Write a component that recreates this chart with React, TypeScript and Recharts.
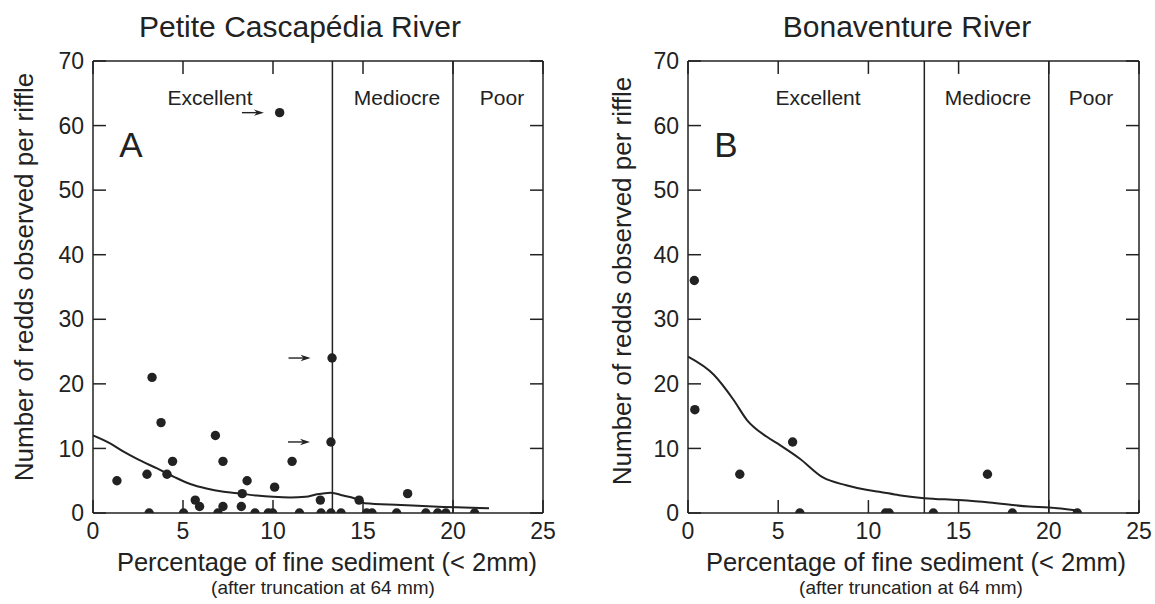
import React from "react";
import {
  ComposedChart,
  Scatter,
  Line,
  XAxis,
  YAxis,
  ReferenceLine,
} from "recharts";

const FONT = '"Liberation Sans", Arial, Helvetica, sans-serif';
const INK = "#222";

const xTicks = [0, 5, 10, 15, 20, 25];
const yTicks = [0, 10, 20, 30, 40, 50, 60, 70];
// inward tick length, in data units (about 13px on each axis)
const TICK_DX = 0.72;
const TICK_DY = 2.0;

// Petite Cascapédia River (A)
const petiteDotX = [
  3.28, 3.78, 6.8, 4.42, 7.22, 11.06, 1.33, 3.0, 4.11, 8.56, 8.29, 10.09, 5.68,
  5.92, 7.22, 8.24, 10.37, 13.28, 13.22, 12.63, 14.78, 17.48,
  3.12, 5.03, 6.94, 9.0, 9.74, 9.98, 11.47, 12.67, 13.22, 13.78, 15.2, 15.5,
  16.87, 18.49, 19.15, 19.6, 21.2,
];
const petiteDotY = [
  21, 14, 12, 8, 8, 8, 5, 6, 6, 5, 3, 4, 2, 1, 1, 1, 62, 24, 11, 2, 2, 3,
  0, 0, 0, 0, 0, 0, 0, 0, 0, 0, 0, 0, 0, 0, 0, 0, 0,
];
const petiteCurveX = [
  0, 1, 1.7, 2.5, 3.56, 4.5, 5.4, 6.3, 7.26, 8.2, 9.1, 10, 10.96, 11.8, 12.44,
  13.2, 13.9, 14.78, 15.1, 17.1, 18.9, 22,
];
const petiteCurveY = [
  12.0, 10.7, 9.5, 8.3, 6.9, 5.6, 4.5, 3.8, 3.3, 3.0, 2.7, 2.5, 2.4, 2.5, 2.9,
  3.15, 2.7, 2.0, 1.5, 1.24, 1.0, 0.72,
];
const petiteArrowX = [9.94, 12.53, 12.5];
const petiteArrowY = [62, 24, 11];
const petiteZones = [13.3, 20];

// Bonaventure River (B)
const bonaDotX = [0.35, 0.38, 2.87, 5.8, 6.2, 10.95, 11.15, 13.6, 16.6, 17.98, 21.58];
const bonaDotY = [36, 16, 6, 11, 0, 0, 0, 0, 6, 0, 0];
const bonaCurveX = [
  0, 1.43, 2.53, 3.27, 4.37, 5.1, 6.2, 7.48, 8.77, 9.88, 10.6, 11.7, 13.1, 15,
  16.7, 18.9, 20, 21.6,
];
const bonaCurveY = [
  24.2, 21.4, 17.5, 14.4, 11.8, 10.5, 8.4, 5.5, 4.3, 3.6, 3.3, 2.75, 2.3, 2.0,
  1.64, 1.0, 0.87, 0.4,
];
const bonaZones = [13.1, 20];

const zip = (xs: number[], ys: number[]) => xs.map((x, i) => ({ x, y: ys[i] }));

const Dot = (p: any) => <circle cx={p.cx} cy={p.cy} r={4.7} fill={INK} />;

const Arrow = (p: any) => {
  const tip = p.cx - 8;
  return (
    <g>
      <line x1={tip - 22} y1={p.cy} x2={tip - 6} y2={p.cy} stroke={INK} strokeWidth={1.4} />
      <polygon
        points={`${tip},${p.cy} ${tip - 10},${p.cy - 3.2} ${tip - 7},${p.cy} ${tip - 10},${p.cy + 3.2}`}
        fill={INK}
      />
    </g>
  );
};

function Panel({
  width,
  yAxisWidth,
  right,
  dots,
  curve,
  zones,
  arrows,
}: {
  width: number;
  yAxisWidth: number;
  right: number;
  dots: { x: number; y: number }[];
  curve: { x: number; y: number }[];
  zones: number[];
  arrows?: { x: number; y: number }[];
}) {
  const axisStroke = { stroke: INK, strokeWidth: 1.5 };
  const tickSeg = (key: string, a: [number, number], b: [number, number]) => (
    <ReferenceLine
      key={key}
      segment={[
        { x: a[0], y: a[1] },
        { x: b[0], y: b[1] },
      ]}
      stroke={INK}
      strokeWidth={1.5}
    />
  );
  return (
    <ComposedChart
      width={width}
      height={604}
      margin={{ top: 61, right, bottom: 0, left: 0 }}
    >
      <XAxis
        type="number"
        dataKey="x"
        domain={[0, 25]}
        ticks={xTicks}
        allowDataOverflow
        height={91}
        tickSize={-13}
        tickMargin={23}
        tickLine={false}
        axisLine={axisStroke}
        tick={{ fontSize: 23, fill: INK, fontFamily: FONT }}
      />
      <XAxis
        xAxisId="top"
        orientation="top"
        mirror
        type="number"
        dataKey="x"
        domain={[0, 25]}
        ticks={xTicks}
        allowDataOverflow
        tick={false}
        tickLine={false}
        axisLine={axisStroke}
      />
      <YAxis
        type="number"
        dataKey="y"
        domain={[0, 70]}
        ticks={yTicks}
        allowDataOverflow
        width={yAxisWidth}
        tickSize={-13}
        tickMargin={22}
        tickLine={false}
        axisLine={axisStroke}
        tick={{ fontSize: 23, fill: INK, fontFamily: FONT }}
      />
      <YAxis
        yAxisId="right"
        orientation="right"
        mirror
        type="number"
        dataKey="y"
        domain={[0, 70]}
        ticks={yTicks}
        allowDataOverflow
        tick={false}
        tickLine={false}
        axisLine={axisStroke}
      />
      {xTicks.map((t) => tickSeg(`b${t}`, [t, 0], [t, TICK_DY]))}
      {xTicks.map((t) => tickSeg(`t${t}`, [t, 70], [t, 70 - TICK_DY]))}
      {yTicks.map((t) => tickSeg(`l${t}`, [0, t], [TICK_DX, t]))}
      {yTicks.map((t) => tickSeg(`r${t}`, [25, t], [25 - TICK_DX, t]))}
      {zones.map((z) => (
        <ReferenceLine key={z} x={z} stroke={INK} strokeWidth={1.5} />
      ))}
      <Scatter
        data={dots}
        xAxisId="top"
        yAxisId="right"
        shape={() => <g />}
        isAnimationActive={false}
      />
      <Line
        data={curve}
        dataKey="y"
        type="monotone"
        stroke={INK}
        strokeWidth={2}
        dot={false}
        activeDot={false}
        isAnimationActive={false}
      />
      <Scatter data={dots} shape={Dot} isAnimationActive={false} />
      {arrows && <Scatter data={arrows} shape={Arrow} isAnimationActive={false} />}
    </ComposedChart>
  );
}

export default function App() {
  const yLabel = "Number of redds observed per riffle";
  const xLabel = "Percentage of fine sediment (< 2mm)";
  const xSub = "(after truncation at 64 mm)";
  return (
    <div
      style={{
        position: "absolute",
        left: 0,
        top: 0,
        width: 1155,
        height: 604,
        background: "#fff",
        fontFamily: FONT,
      }}
    >
      <div style={{ position: "absolute", left: 0, top: 0 }}>
        <Panel
          width={580}
          yAxisWidth={93}
          right={37}
          dots={zip(petiteDotX, petiteDotY)}
          curve={zip(petiteCurveX, petiteCurveY)}
          zones={petiteZones}
          arrows={zip(petiteArrowX, petiteArrowY)}
        />
      </div>
      <div style={{ position: "absolute", left: 580, top: 0 }}>
        <Panel
          width={575}
          yAxisWidth={108}
          right={16}
          dots={zip(bonaDotX, bonaDotY)}
          curve={zip(bonaCurveX, bonaCurveY)}
          zones={bonaZones}
        />
      </div>
      <svg
        width={1155}
        height={604}
        style={{ position: "absolute", left: 0, top: 0, pointerEvents: "none" }}
        fontFamily={FONT}
        fill={INK}
      >
        <text x={300} y={37} fontSize={30} textAnchor="middle">
          Petite Cascapédia River
        </text>
        <text x={907} y={37} fontSize={30} textAnchor="middle">
          Bonaventure River
        </text>
        <text transform="translate(33,277) rotate(-90)" fontSize={26} textAnchor="middle">
          {yLabel}
        </text>
        <text transform="translate(631,281) rotate(-90)" fontSize={26} textAnchor="middle">
          {yLabel}
        </text>
        <text x={327} y={571} fontSize={25.5} textAnchor="middle">
          {xLabel}
        </text>
        <text x={916} y={571} fontSize={25.5} textAnchor="middle">
          {xLabel}
        </text>
        <text x={323} y={594} fontSize={19} textAnchor="middle">
          {xSub}
        </text>
        <text x={911} y={594} fontSize={19} textAnchor="middle">
          {xSub}
        </text>
        <text x={210} y={105} fontSize={21} textAnchor="middle">Excellent</text>
        <text x={397} y={105} fontSize={21} textAnchor="middle">Mediocre</text>
        <text x={502} y={105} fontSize={21} textAnchor="middle">Poor</text>
        <text x={818} y={105} fontSize={21} textAnchor="middle">Excellent</text>
        <text x={988} y={105} fontSize={21} textAnchor="middle">Mediocre</text>
        <text x={1091} y={105} fontSize={21} textAnchor="middle">Poor</text>
        <text x={131} y={157} fontSize={35} textAnchor="middle">A</text>
        <text x={726} y={157} fontSize={35} textAnchor="middle">B</text>
      </svg>
    </div>
  );
}
